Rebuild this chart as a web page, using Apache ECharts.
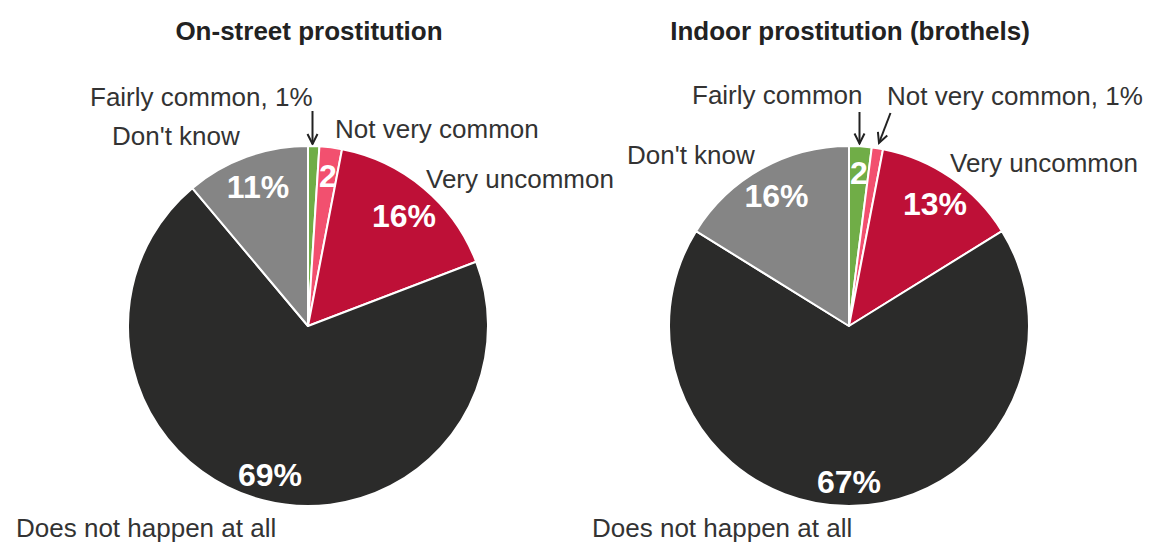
<!DOCTYPE html>
<html><head><meta charset="utf-8">
<script src="https://cdn.jsdelivr.net/npm/echarts@6/dist/echarts.min.js"></script>
<style>html,body{margin:0;padding:0;background:#fff}#c{width:1149px;height:542px}</style>
</head><body><div id="c"></div>
<script>
// ---- data ----
const categories = ['Fairly common', 'Not very common', 'Very uncommon', 'Does not happen at all', "Don't know"];
const onStreetValues = [1, 2, 16, 69, 11];
const indoorValues = [2, 1, 13, 67, 16];
const chartTitles = ['On-street prostitution', 'Indoor prostitution (brothels)'];

// ---- styling / layout ----
const sliceColors = ['#70ad47', '#f2506f', '#be1037', '#2b2b2a', '#858585'];
const textColor = '#333333';
const FONT = 'Liberation Sans, Arial, sans-serif';
const R = 180;
const pies = [
  {
    values: onStreetValues, center: [308, 326], titleX: 309,
    inside: [[20, -150], [20, -150], [96, -110], [-38, 149], [-50, -139]],
    outside: [[90, 96.5], [335, 129], [426, 179], [16, 527.5], [112, 136]],
    arrows: [[312.5, 111, 312.5, 144]]
  },
  {
    values: indoorValues, center: [849, 326], titleX: 850,
    inside: [[10, -153], [10, -153], [86, -122], [0, 156], [-72.5, -130]],
    outside: [[692, 95], [887, 95.5], [950, 163], [592, 527.5], [627, 154.5]],
    arrows: [[859.5, 112, 859.5, 143.5], [890.5, 113, 879, 143]]
  }
];

function insideText(v) { return v <= 1 ? '' : (v === 2 ? String(v) : v + '%'); }
function outsideText(name, v) { return v <= 1 ? name + ', ' + v + '%' : name; }

const series = [];
const graphics = [];
pies.forEach((p, pi) => {
  const data = categories.map((c, i) => ({ name: c, value: p.values[i], itemStyle: { color: sliceColors[i] } }));
  series.push({
    type: 'pie', center: p.center, radius: R, startAngle: 90, clockwise: true,
    silent: true, avoidLabelOverlap: false, animation: false,
    itemStyle: { borderColor: '#ffffff', borderWidth: 2 },
    label: {
      show: true, position: 'inside', color: '#ffffff', fontWeight: 'bold',
      fontSize: 32, fontFamily: FONT,
      formatter: (prm) => insideText(prm.value)
    },
    labelLine: { show: false },
    labelLayout: (prm) => ({
      x: p.center[0] + p.inside[prm.dataIndex][0],
      y: p.center[1] + p.inside[prm.dataIndex][1],
      align: 'center', verticalAlign: 'middle', hideOverlap: false
    }),
    data: data
  });
  series.push({
    type: 'pie', center: p.center, radius: R, startAngle: 90, clockwise: true,
    silent: true, avoidLabelOverlap: false, animation: false, z: 3,
    itemStyle: { color: 'rgba(0,0,0,0)', borderWidth: 0 },
    label: {
      show: true, position: 'outside', color: textColor, fontSize: 26, fontFamily: FONT,
      formatter: (prm) => outsideText(prm.name, prm.value)
    },
    labelLine: { show: false },
    labelLayout: (prm) => ({
      x: p.outside[prm.dataIndex][0],
      y: p.outside[prm.dataIndex][1],
      align: 'left', verticalAlign: 'middle', hideOverlap: false
    }),
    data: categories.map((c, i) => ({ name: c, value: p.values[i] }))
  });
  graphics.push({
    type: 'text', x: p.titleX, y: 31,
    style: { text: chartTitles[pi], fill: '#222222', font: 'bold 26px ' + FONT, textAlign: 'center', textVerticalAlign: 'middle' }
  });
  p.arrows.forEach(a => {
    const [x1, y1, x2, y2] = a;
    const dx = x2 - x1, dy = y2 - y1, L = Math.hypot(dx, dy);
    const ux = dx / L, uy = dy / L;
    const bx = x2 - ux * 10, by = y2 - uy * 10;
    graphics.push({ type: 'line', shape: { x1, y1, x2, y2 }, style: { stroke: '#222222', lineWidth: 2 } });
    graphics.push({
      type: 'polyline',
      shape: { points: [[bx - uy * 5, by + ux * 5], [x2, y2], [bx + uy * 5, by - ux * 5]] },
      style: { stroke: '#222222', lineWidth: 2, fill: null }
    });
  });
});

const chart = echarts.init(document.getElementById('c'), null, { renderer: 'svg' });
chart.setOption({
  backgroundColor: '#ffffff',
  animation: false,
  series: series,
  graphic: graphics
});
</script>
</body></html>
